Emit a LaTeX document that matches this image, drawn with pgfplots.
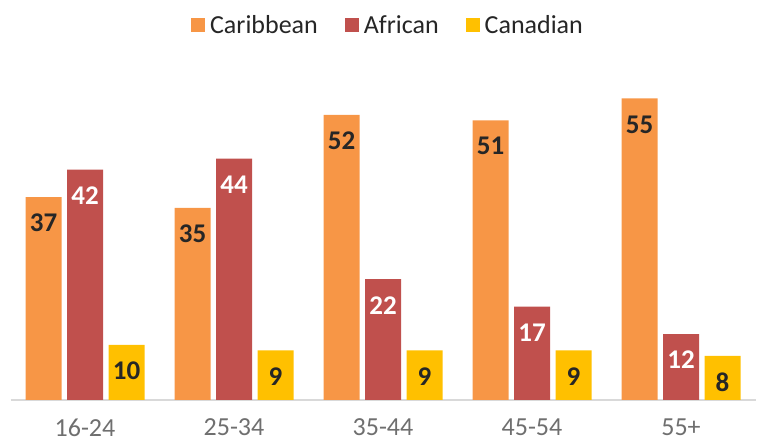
\documentclass[border=0pt]{standalone}
\usepackage{pgfplots}
\pgfplotsset{compat=1.18}
\usepackage{fontspec}
\setmainfont{Carlito}
\definecolor{cOr}{HTML}{F79646}
\definecolor{cRd}{HTML}{C0504D}
\definecolor{cYl}{HTML}{FFC000}
\definecolor{cTick}{HTML}{6F6F6F}
\definecolor{cTxt}{HTML}{262626}
\definecolor{cAx}{HTML}{D9D9D9}
\begin{document}
\begin{tikzpicture}
\begin{axis}[
  x=149bp, y=5.48bp,
  xmin=-0.5, xmax=4.5, ymin=0, ymax=62,
  ybar=5.5bp, bar width=36bp,
  axis x line*=bottom, axis y line=none,
  axis line style={draw=cAx, line width=1.6bp, -},
  xtick={0,1,2,3,4},
  xticklabels={16-24,25-34,35-44,45-54,55+},
  major tick length=0pt,
  xticklabel style={font=\fontsize{26bp}{30bp}\selectfont, text=cTick, yshift=-18bp, inner sep=1bp},
  /pgf/number format/assume math mode=true,
  nodes near coords,
  every node near coord/.append style={font=\fontsize{27bp}{30bp}\selectfont\bfseries, text=cTxt, anchor=center, yshift=-26bp},
  clip=false,
  legend columns=3,
  legend style={at={(0.5,1)}, anchor=center, xshift=5bp, yshift=35bp, draw=none, fill=none,
    font=\fontsize{26bp}{30bp}\selectfont, text=cTxt,
    /tikz/every odd column/.append style={column sep=3bp},
    /tikz/every even column/.append style={column sep=25bp}},
  legend image code/.code={\fill[#1,draw=none] (0bp,-7bp) rectangle (14bp,7bp);},
]
\addplot[fill=cOr, draw=none] coordinates {(0,37) (1,35) (2,52) (3,51) (4,55)};
\addplot[fill=cRd, draw=none, every node near coord/.append style={text=white}] coordinates {(0,42) (1,44) (2,22) (3,17) (4,12)};
\addplot[fill=cYl, draw=none] coordinates {(0,10) (1,9) (2,9) (3,9) (4,8)};
\legend{Caribbean, African, Canadian}
\coordinate (bl) at (rel axis cs:0,0);
\coordinate (tr) at (rel axis cs:1,1);
\end{axis}
\pgfresetboundingbox
\path[use as bounding box] ([xshift=-10.5bp,yshift=-45bp]bl) rectangle ([xshift=1.5bp,yshift=60bp]tr);
\end{tikzpicture}
\end{document}
